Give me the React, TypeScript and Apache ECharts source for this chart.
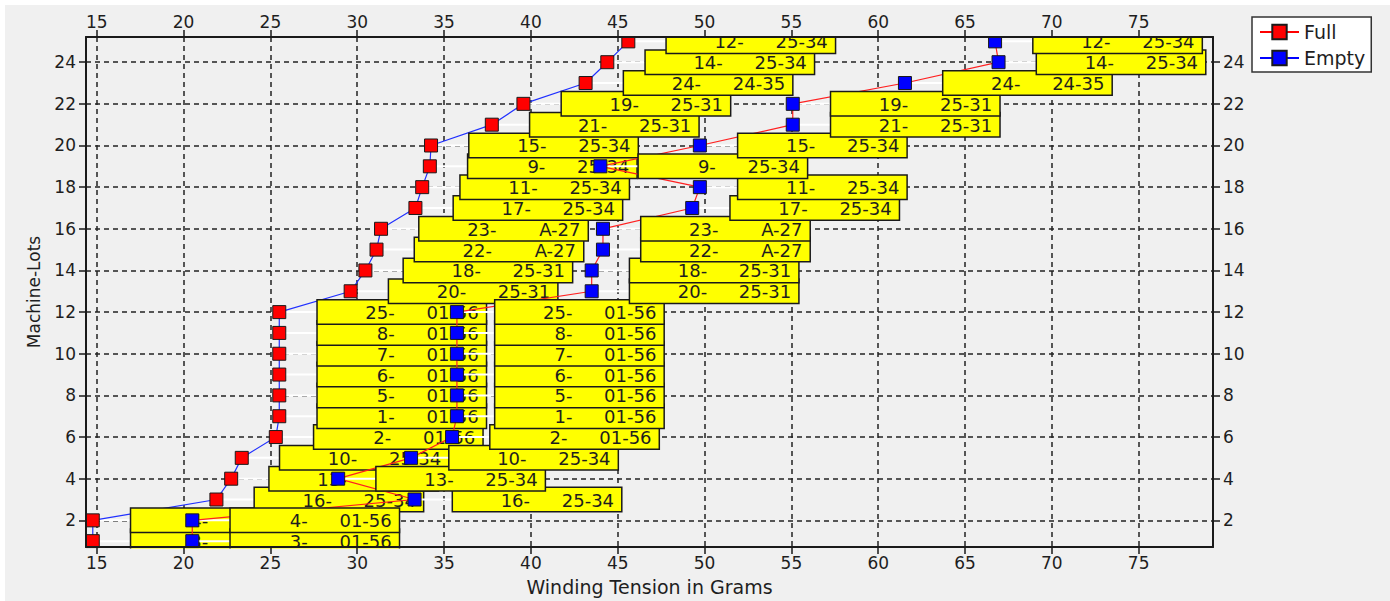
import React, { useEffect, useRef } from "react";
import * as echarts from "echarts";

// ---- data (rows ordered by machine-lot position 1..25) ----
const lotRows = [1, 2, 3, 4, 5, 6, 7, 8, 9, 10, 11, 12, 13, 14, 15, 16, 17, 18, 19, 20, 21, 22, 23, 24, 25];
const machineIds = ["3", "4", "16", "13", "10", "2", "1", "5", "6", "7", "8", "25", "20", "18", "22", "23", "17", "11", "9", "15", "21", "19", "24", "14", "12"];
const lotCodes = ["01-56", "01-56", "25-34", "25-34", "25-34", "01-56", "01-56", "01-56", "01-56", "01-56", "01-56", "01-56", "25-31", "25-31", "A-27", "A-27", "25-34", "25-34", "25-34", "25-34", "25-31", "25-31", "24-35", "25-34", "25-34"];
const fullTension = [14.77, 14.77, 21.89, 22.74, 23.35, 25.31, 25.51, 25.51, 25.51, 25.51, 25.51, 25.51, 29.62, 30.47, 31.11, 31.37, 33.35, 33.74, 34.18, 34.25, 37.75, 39.57, 43.15, 44.4, 45.61];
const emptyTension = [20.5, 20.5, 33.3, 28.9, 33.1, 35.46, 35.74, 35.74, 35.74, 35.74, 35.74, 35.74, 43.5, 43.5, 44.15, 44.15, 49.29, 49.73, 44.0, 49.73, 55.08, 55.08, 61.54, 66.93, 66.73];
const xTicks = [15, 20, 25, 30, 35, 40, 45, 50, 55, 60, 65, 70, 75];
const yTicks = [2, 4, 6, 8, 10, 12, 14, 16, 18, 20, 22, 24];
const X_MIN = 14.38;
const X_MAX = 79.28;
const Y_MIN = 0.72;
const Y_MAX = 25.21;

const FONT = "DejaVu Sans";
const TXT = "#1e1e1e";

export default function App() {
  const ref = useRef<HTMLDivElement>(null);

  useEffect(() => {
    if (!ref.current) return;
    const chart = echarts.init(ref.current, undefined, { renderer: "svg" });

    const fullData = fullTension.map((x, i) => [x, lotRows[i]]);
    const emptyData = emptyTension.map((x, i) => [x, lotRows[i]]);

    const boxLabel = {
      show: true,
      position: "right",
      distance: 31.5,
      formatter: (p: any) => `{a|${machineIds[p.dataIndex]}-}{b|${lotCodes[p.dataIndex]}}`,
      backgroundColor: "#ffff00",
      borderColor: "#1a1a1a",
      borderWidth: 1.5,
      padding: [3, 7, 2, 0],
      rich: {
        a: { width: 77, align: "right", fontSize: 18, fontFamily: FONT, color: TXT, lineHeight: 18 },
        b: { width: 84, align: "right", fontSize: 18, fontFamily: FONT, color: TXT, lineHeight: 18 },
      },
    };

    const leader = (data: number[][], z: number) => ({
      type: "custom",
      xAxisIndex: 0,
      yAxisIndex: 0,
      z,
      silent: true,
      data,
      renderItem: (_params: any, api: any) => {
        const c = api.coord([api.value(0), api.value(1)]);
        return {
          type: "line",
          shape: { x1: c[0], y1: c[1], x2: c[0] + 38, y2: c[1] },
          style: { stroke: "#ffffff", lineWidth: 2 },
        };
      },
    });

    const tickFmt = (list: number[]) => (v: number) => (list.indexOf(v) >= 0 ? String(v) : "");

    const visX = (position: string, withName: boolean) => ({
      type: "value",
      position,
      min: X_MIN,
      max: X_MAX,
      minInterval: 5,
      maxInterval: 5,
      z: 10,
      axisLine: { show: true, onZero: false, lineStyle: { color: "#1a1a1a", width: 2 } },
      axisTick: { show: true, length: 7, customValues: xTicks, lineStyle: { color: "#1a1a1a", width: 1.5 } },
      axisLabel: {
        customValues: xTicks,
        formatter: tickFmt(xTicks),
        margin: 7,
        fontSize: 17,
        fontFamily: FONT,
        color: TXT,
      },
      splitLine: { show: false },
      ...(withName
        ? {
            name: "Winding Tension in Grams",
            nameLocation: "middle",
            nameGap: 30,
            nameTextStyle: { fontSize: 19, fontFamily: FONT, color: TXT },
          }
        : {}),
    });

    const visY = (position: string, withName: boolean) => ({
      type: "value",
      position,
      min: Y_MIN,
      max: Y_MAX,
      minInterval: 2,
      maxInterval: 2,
      z: 10,
      axisLine: { show: true, onZero: false, lineStyle: { color: "#1a1a1a", width: 2 } },
      axisTick: { show: true, length: 7, customValues: yTicks, lineStyle: { color: "#1a1a1a", width: 1.5 } },
      axisLabel: {
        customValues: yTicks,
        formatter: tickFmt(yTicks),
        margin: 10,
        fontSize: 17,
        fontFamily: FONT,
        color: TXT,
      },
      splitLine: { show: false },
      ...(withName
        ? {
            name: "Machine-Lots",
            nameLocation: "middle",
            nameGap: 44,
            nameTextStyle: { fontSize: 17, fontFamily: FONT, color: TXT },
          }
        : {}),
    });

    const gridLine = { show: true, lineStyle: { color: "#222222", width: 1.5, type: [5, 4] } };

    chart.setOption({
      animation: false,
      backgroundColor: "#f0f0f0",
      grid: { left: 86, right: 177, top: 37, bottom: 53.7, containLabel: false },
      legend: {
        left: 1252,
        top: 17,
        orient: "vertical",
        selectedMode: false,
        data: [
          { name: "Full", itemStyle: { color: "#ff0000" }, lineStyle: { color: "#ff0000" } },
          { name: "Empty", itemStyle: { color: "#0000ff" }, lineStyle: { color: "#0000ff" } },
        ],
        backgroundColor: "#ffffff",
        borderColor: "#333333",
        borderWidth: 1.5,
        borderRadius: 0,
        padding: [5, 6, 4, 7],
        itemGap: 6,
        itemWidth: 39,
        itemHeight: 18,
        textStyle: { fontSize: 19, fontFamily: FONT, color: TXT, lineHeight: 20 },
      },
      xAxis: [
        visX("bottom", true),
        visX("top", false),
        {
          type: "value",
          position: "bottom",
          min: X_MIN,
          max: X_MAX,
          minInterval: 5,
          maxInterval: 5,
          z: 0,
          axisLine: { show: false, onZero: false },
          axisTick: { show: false, customValues: xTicks },
          axisLabel: { show: false },
          splitLine: gridLine,
        },
      ],
      yAxis: [
        visY("left", true),
        visY("right", false),
        {
          type: "value",
          position: "left",
          min: Y_MIN,
          max: Y_MAX,
          minInterval: 2,
          maxInterval: 2,
          z: 0,
          axisLine: { show: false, onZero: false },
          axisTick: { show: false, customValues: yTicks },
          axisLabel: { show: false },
          splitLine: gridLine,
        },
      ],
      graphic: [
        { type: "rect", silent: true, z: 1, shape: { x: 0, y: 0, width: 1390, height: 5 }, style: { fill: "#ffffff" } },
        { type: "rect", silent: true, z: 1, shape: { x: 0, y: 0, width: 5, height: 601 }, style: { fill: "#ffffff" } },
        { type: "rect", silent: true, z: 5, shape: { x: 80, y: 8, width: 1140, height: 28.5 }, style: { fill: "#f0f0f0" } },
        { type: "rect", silent: true, z: 5, shape: { x: 80, y: 548.4, width: 1140, height: 8 }, style: { fill: "#f0f0f0" } },
      ],
      series: [
        leader(fullData, 2),
        {
          name: "Full",
          type: "line",
          xAxisIndex: 0,
          yAxisIndex: 0,
          z: 2,
          data: fullData,
          symbol: "rect",
          symbolSize: 13,
          itemStyle: { color: "#ff0000", borderColor: "#1a1a1a", borderWidth: 1 },
          lineStyle: { color: "#2030ff", width: 1.2 },
          label: boxLabel,
          emphasis: { disabled: true },
        },
        leader(emptyData, 3),
        {
          name: "Empty",
          type: "line",
          xAxisIndex: 0,
          yAxisIndex: 0,
          z: 3,
          data: emptyData,
          symbol: "rect",
          symbolSize: 13,
          itemStyle: { color: "#0000ff", borderColor: "#1a1a1a", borderWidth: 1 },
          lineStyle: { color: "#ff2020", width: 1.2 },
          label: boxLabel,
          emphasis: { disabled: true },
        },
      ],
    });

    return () => chart.dispose();
  }, []);

  return (
    <div
      ref={ref}
      style={{ position: "absolute", left: 0, top: 0, width: 1390, height: 601 }}
    />
  );
}
